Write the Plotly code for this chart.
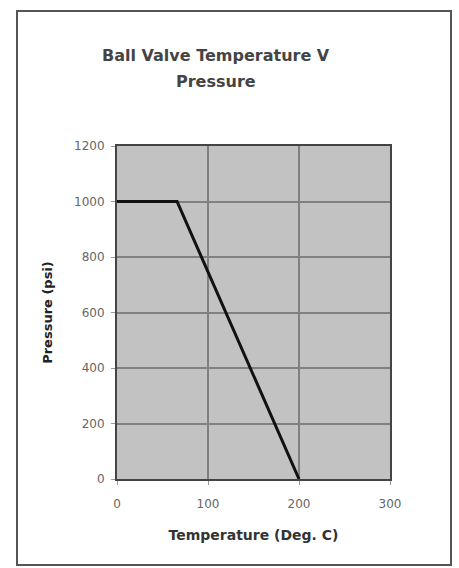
import plotly.graph_objects as go

# Pressure rating curve for the ball valve
temperature_c = [0, 66, 200]
pressure_psi = [1000, 1000, 0]

x_ticks = [0, 100, 200, 300]
y_ticks = [0, 200, 400, 600, 800, 1000, 1200]

title_lines = ["Ball Valve Temperature V", "Pressure"]

W, H = 459, 568
L, R, T, B = 117, 69, 146, 89
pw, ph = W - L - R, H - T - B

def px_to_paper_x(px):
    return (px - L) / pw

def px_to_paper_y(py):
    return (H - B - py) / ph

font_family = "DejaVu Sans"

fig = go.Figure()
fig.add_trace(go.Scatter(
    x=temperature_c, y=pressure_psi, mode="lines",
    line=dict(color="#111111", width=3),
    showlegend=False, hoverinfo="skip",
))

axis_common = dict(
    showgrid=True, gridcolor="#808080", gridwidth=1.5,
    showline=True, linecolor="#444444", linewidth=2, mirror=True,
    ticks="outside", ticklen=4, tickcolor="#999999",
    zeroline=False,
    tickfont=dict(family=font_family, size=12, color="#666666"),
)

fig.update_xaxes(
    range=[0, 300], tickvals=x_ticks, ticktext=[str(v) for v in x_ticks],
    ticklabelstandoff=9,
    title=dict(text="Temperature (Deg. C)", standoff=20,
               font=dict(family=font_family, size=14, color="#333333", weight="bold")),
    **axis_common,
)
fig.update_yaxes(
    range=[0, 1200], tickvals=y_ticks, ticktext=[str(v) for v in y_ticks],
    ticklabelstandoff=4,
    title=dict(text="Pressure (psi)", standoff=19,
               font=dict(family=font_family, size=13, color="#222222", weight="bold")),
    **axis_common,
)

# Two-line chart title with generous line spacing
title_y_px = [55, 82]
annotations = [
    dict(text=txt, xref="paper", yref="paper",
         x=px_to_paper_x(216), y=px_to_paper_y(ypx),
         xanchor="center", yanchor="middle", showarrow=False,
         font=dict(family=font_family, size=16, color="#444444", weight="bold"))
    for txt, ypx in zip(title_lines, title_y_px)
]

fig.update_layout(
    width=W, height=H,
    margin=dict(l=L, r=R, t=T, b=B),
    paper_bgcolor="white",
    plot_bgcolor="#c2c2c2",
    annotations=annotations,
    shapes=[dict(
        type="rect", xref="paper", yref="paper", layer="above",
        x0=px_to_paper_x(17), x1=px_to_paper_x(451),
        y0=px_to_paper_y(565), y1=px_to_paper_y(11),
        line=dict(color="#555555", width=2), fillcolor="rgba(0,0,0,0)",
    )],
)

fig.write_html("out.html")
